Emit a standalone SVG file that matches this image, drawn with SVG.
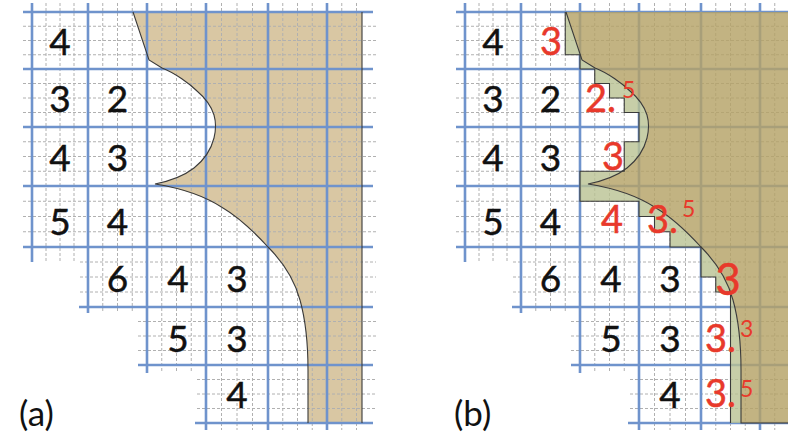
<svg xmlns="http://www.w3.org/2000/svg" xmlns:xlink="http://www.w3.org/1999/xlink" width="788" height="437" viewBox="0 0 788 437">
<style>
.maj{stroke:#6f93cc;stroke-width:2.6;fill:none}
.min{stroke:#b0b0b0;stroke-width:1;stroke-dasharray:3 2;fill:none}
.out{stroke:#3a3a3a;stroke-width:1.1;fill:none}
text{font-family:Lato,'Open Sans','Liberation Sans',sans-serif}
.n{font-size:37px;fill:#111;stroke:#111;stroke-width:0.45;text-anchor:middle}
.r{font-size:38px;fill:#e8392b;stroke:#e8392b;stroke-width:0.5}
.rc{text-anchor:middle}
.sup{font-size:23px;stroke-width:0}
.lbl{font-size:35px;fill:#111}
</style>
<defs>
<g id="grid">
<path class="min" d="M46,3V262M60,3V262M74,3V262M102.75,3V313M117.5,3V313M132.25,3V313M161.75,3V373M176.5,3V373M191.25,3V373M221.5,3V430M237,3V430M252.5,3V430M282.75,3V430M297.5,3V430M312.25,3V430M341.75,3V430M356.5,3V430"/>
<path class="min" d="M23,26.25H376M23,40.5H376M23,54.75H376M23,83.5H376M23,98H376M23,112.5H376M23,141.75H376M23,156.5H376M23,171.25H376M23,201.25H376M23,216.5H376M23,231.75H376M80,262H376M80,277H376M80,292H376M138,321.5H376M138,336H376M138,350.5H376M197,379.5H376M197,394H376M197,408.5H376"/>
<path class="maj" d="M32,3V262M88,3V313M147,3V373M206,3V430M268,3V430M327,3V430"/>
<path class="maj" d="M23,12H373M23,69H373M23,127H373M23,186H373M23,247H373M79,307H373M138,365H373M195,423H373"/>
</g>
</defs>

<g id="panel-a">
<path id="obstacle-a" fill="#d9c7a3" d="M133,12L362,12L362,423L308,423L308,370C308,340 305,318 300,300C294,278 282,261 268,247C256,234 240,218 223,208C205,196 180,188 155,184C170,181 185,175 194,168C204,160 211,150 214,138C216,130 216,122 214,115C211,105 204,97 197,91C190,84 175,73 162,68L149,60Z"/>
<use xlink:href="#grid" href="#grid"/>
<path class="out" d="M362,12V423M308,423V370C308,340 305,318 300,300C294,278 282,261 268,247C256,234 240,218 223,208C205,196 180,188 155,184C170,181 185,175 194,168C204,160 211,150 214,138C216,130 216,122 214,115C211,105 204,97 197,91C190,84 175,73 162,68L149,60L133,12"/>
<g id="values-a">
<text class="n" x="60" y="55">4</text>
<text class="n" x="60" y="112">3</text><text class="n" x="117.5" y="112">2</text>
<text class="n" x="60" y="171">4</text><text class="n" x="117.5" y="171">3</text>
<text class="n" x="60" y="235">5</text><text class="n" x="117.5" y="235">4</text>
<text class="n" x="117.5" y="292">6</text><text class="n" x="178" y="292">4</text><text class="n" x="237" y="292">3</text>
<text class="n" x="178" y="352">5</text><text class="n" x="237" y="352">3</text>
<text class="n" x="237" y="408">4</text>
</g>
<text class="lbl" x="19" y="426">(a)</text>
</g>

<g id="panel-b" transform="translate(433,0)">
<use xlink:href="#grid" href="#grid"/>
<path id="staircase-b" fill="#b9c292" fill-opacity="0.8" fill-rule="evenodd" d="M132.25,12V54.75H147V69H161.75V83.5H176.5V98H191.25V112.5H206V141.75H191.25V171.25H147V201.25H206V216.5H221.5V231.75H237V247H268V277H282.75V292H297.5V423H380V12Z M133,12L380,12L380,423L308,423L308,370C308,340 305,318 300,300C294,278 282,261 268,247C256,234 240,218 223,208C205,196 180,188 155,184C170,181 185,175 194,168C204,160 211,150 214,138C216,130 216,122 214,115C211,105 204,97 197,91C190,84 175,73 162,68L149,60Z"/>
<path id="obstacle-b" fill="#b4a266" fill-opacity="0.82" d="M133,12L380,12L380,423L308,423L308,370C308,340 305,318 300,300C294,278 282,261 268,247C256,234 240,218 223,208C205,196 180,188 155,184C170,181 185,175 194,168C204,160 211,150 214,138C216,130 216,122 214,115C211,105 204,97 197,91C190,84 175,73 162,68L149,60Z"/>
<path class="out" d="M132.25,12V54.75H147V69H161.75V83.5H176.5V98H191.25V112.5H206V141.75H191.25V171.25H147V201.25H206V216.5H221.5V231.75H237V247H268V277H282.75V292H297.5V423"/>
<path class="out" d="M380,423H308V370C308,340 305,318 300,300C294,278 282,261 268,247C256,234 240,218 223,208C205,196 180,188 155,184C170,181 185,175 194,168C204,160 211,150 214,138C216,130 216,122 214,115C211,105 204,97 197,91C190,84 175,73 162,68L149,60L133,12"/>
<g id="values-b">
<text class="n" x="60" y="55">4</text>
<text class="n" x="60" y="112">3</text><text class="n" x="117.5" y="112">2</text>
<text class="n" x="60" y="171">4</text><text class="n" x="117.5" y="171">3</text>
<text class="n" x="60" y="235">5</text><text class="n" x="117.5" y="235">4</text>
<text class="n" x="117.5" y="292">6</text><text class="n" x="178" y="292">4</text><text class="n" x="237" y="292">3</text>
<text class="n" x="178" y="352">5</text><text class="n" x="237" y="352">3</text>
<text class="n" x="237" y="408">4</text>
</g>
<g id="updated-b">
<text class="r rc" x="118" y="55">3</text>
<text class="r" x="152" y="112">2.<tspan class="sup" x="189" y="98">5</tspan></text>
<text class="r rc" x="180" y="170">3</text>
<text class="r rc" x="179" y="233">4</text>
<text class="r" x="214" y="233">3.<tspan class="sup" x="249" y="217">5</tspan></text>
<text class="r rc" x="295" y="295" style="font-size:44px">3</text>
<text class="r" x="272" y="352">3.<tspan class="sup" x="307" y="337">3</tspan></text>
<text class="r" x="272" y="407">3.<tspan class="sup" x="307" y="397">5</tspan></text>
</g>
<text class="lbl" x="21" y="426">(b)</text>
</g>
</svg>
